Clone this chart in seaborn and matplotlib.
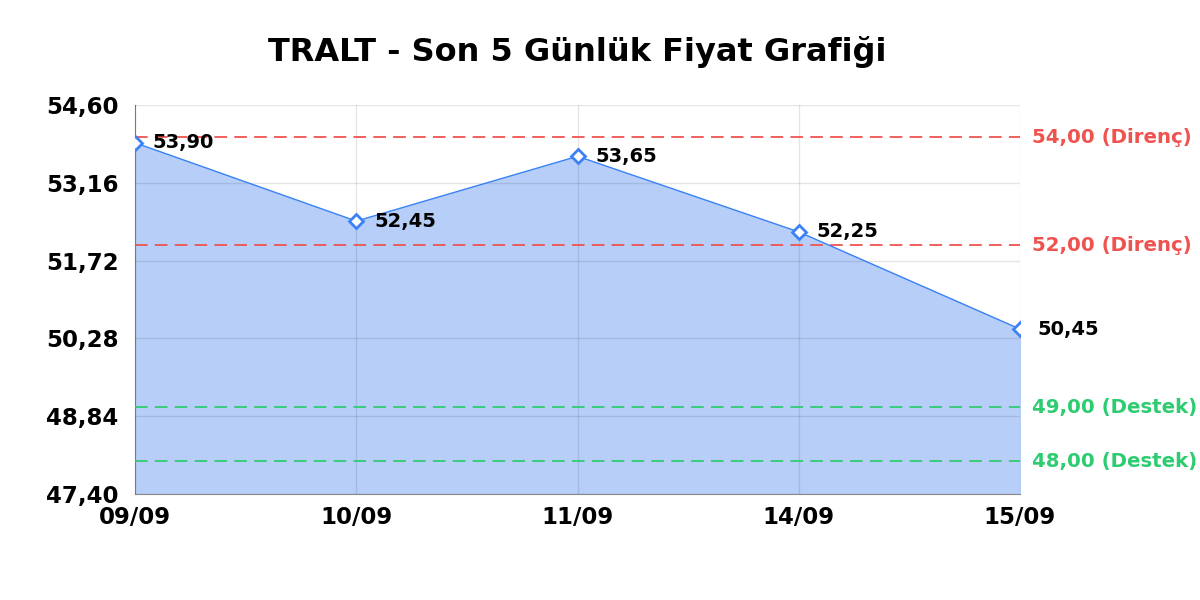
import numpy as np
import pandas as pd
import matplotlib
matplotlib.use("Agg")
import matplotlib.pyplot as plt
import seaborn as sns

# veriler
dates = ["09/09", "10/09", "11/09", "14/09", "15/09"]
prices = [53.90, 52.45, 53.65, 52.25, 50.45]
resistance = [54.00, 52.00]
support = [49.00, 48.00]
yticks = [47.40, 48.84, 50.28, 51.72, 53.16, 54.60]


def tr(v):
    return f"{v:.2f}".replace(".", ",")


sns.set_style("white")
plt.rcParams["font.family"] = ["DejaVu Sans"]
plt.rcParams["text.color"] = "black"
plt.rcParams["xtick.color"] = "black"
plt.rcParams["ytick.color"] = "black"

df = pd.DataFrame({"tarih": dates, "fiyat": prices})
df["x"] = range(len(df))

fig, ax = plt.subplots(figsize=(12, 6), dpi=100)
fig.subplots_adjust(left=0.1125, right=0.85, top=0.825, bottom=0.177)

ax.fill_between(df["x"], df["fiyat"], yticks[0], color="#b7cff8", zorder=1)
sns.lineplot(data=df, x="x", y="fiyat", ax=ax, color="#3b82f6", linewidth=1,
             marker="D", markersize=7, markerfacecolor="white",
             markeredgecolor="#3b82f6", markeredgewidth=2, zorder=4)

for x, y in zip(df["x"], df["fiyat"]):
    ax.text(x + 0.08, y, tr(y), fontsize=14, fontweight="bold",
            va="center", ha="left", color="black", zorder=5)

dash = (0, (7, 4))
for lvl in resistance:
    ax.axhline(lvl, color="#ef5350", linestyle=dash, linewidth=1.3, zorder=3)
    ax.text(1.014, lvl, f"{tr(lvl)} (Direnç)", transform=ax.get_yaxis_transform(),
            color="#ef5350", fontsize=14.2, fontweight="bold", va="center")
for lvl in support:
    ax.axhline(lvl, color="#2ecc71", linestyle=dash, linewidth=1.3, zorder=3)
    ax.text(1.014, lvl, f"{tr(lvl)} (Destek)", transform=ax.get_yaxis_transform(),
            color="#2ecc71", fontsize=14.2, fontweight="bold", va="center")

ax.set_xlim(0, len(dates) - 1)
ax.set_ylim(yticks[0], yticks[-1])
ax.set_xticks(df["x"])
ax.set_xticklabels(dates, fontsize=16.5, fontweight="bold")
ax.set_yticks(yticks)
ax.set_yticklabels([tr(v) for v in yticks], fontsize=16.5, fontweight="bold")
ax.grid(True, color="black", alpha=0.1, linewidth=1)
ax.set_axisbelow(False)
for gl in ax.get_xgridlines() + ax.get_ygridlines():
    gl.set_zorder(2)
ax.set_xlabel("")
ax.set_ylabel("")
for s in ["top", "right"]:
    ax.spines[s].set_visible(False)
for s in ["left", "bottom"]:
    ax.spines[s].set_color("#888888")
ax.tick_params(axis="x", length=0, pad=9)
ax.tick_params(axis="y", length=0, pad=12)

ax.set_title("TRALT - Son 5 Günlük Fiyat Grafiği", fontsize=23, fontweight="bold", pad=32)

fig.savefig("out.png", dpi=100)
